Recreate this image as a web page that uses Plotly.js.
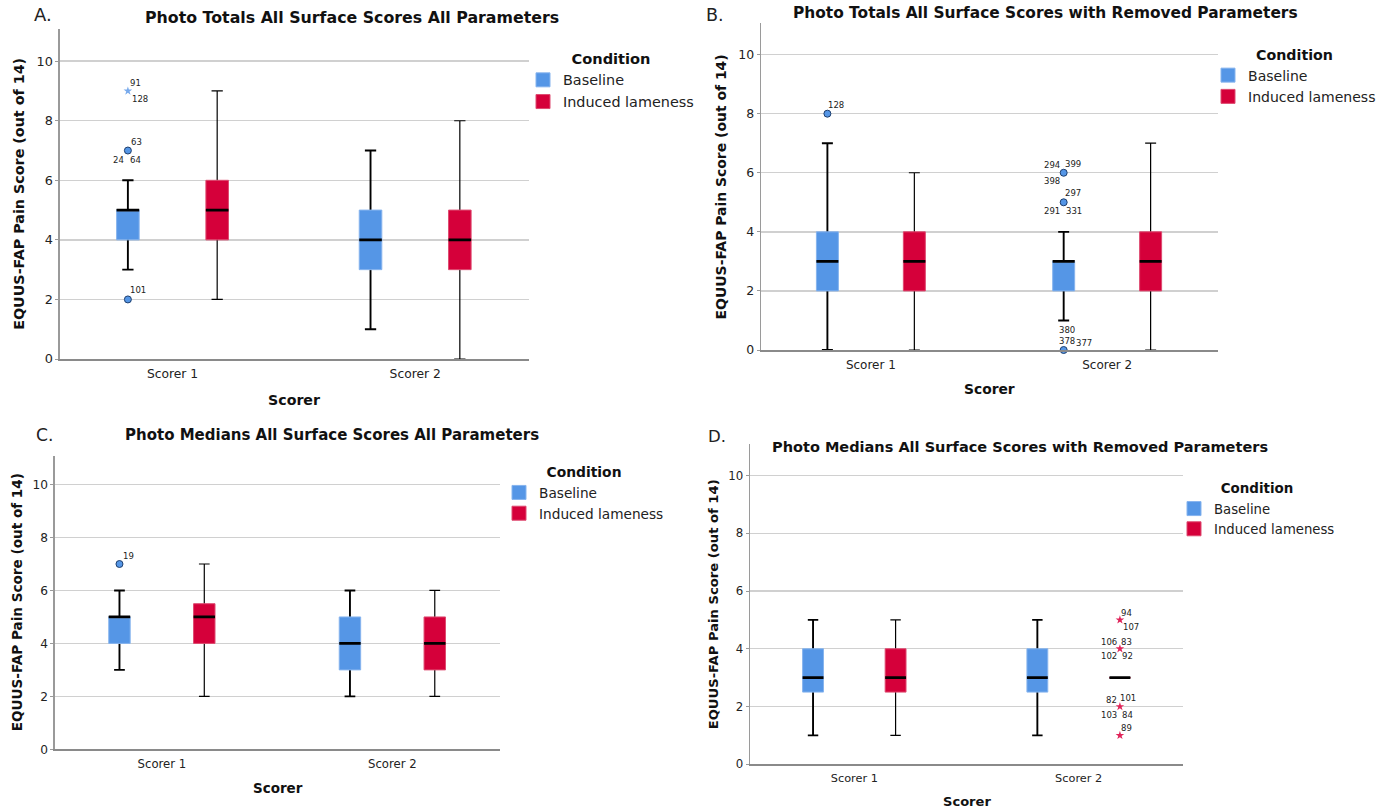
<!DOCTYPE html>
<html>
<head>
<meta charset="utf-8">
<script src="https://cdn.plot.ly/plotly-3.0.1.min.js"></script>
<style>html,body{margin:0;padding:0;background:#fff}#chart{width:1390px;height:811px}</style>
</head>
<body>
<div id="chart"></div>
<script>
// ---------------- DATA ----------------
const scorers = ['Scorer 1', 'Scorer 2'];
const conditions = ['Baseline', 'Induced lameness'];
const yTickVals = [0, 2, 4, 6, 8, 10];
const panelLetters = ['A.', 'B.', 'C.', 'D.'];
const panelTitles = [
  'Photo Totals All Surface Scores All Parameters',
  'Photo Totals All Surface Scores with Removed Parameters',
  'Photo Medians All Surface Scores All Parameters',
  'Photo Medians All Surface Scores with Removed Parameters'
];
const xAxisTitle = 'Scorer';
const yAxisTitle = 'EQUUS-FAP Pain Score (out of 14)';
const legendTitle = 'Condition';

// Box statistics: rows = condition [Baseline, Induced lameness], columns = scorer [Scorer 1, Scorer 2]
// A. Photo totals, all parameters
const totAllLower  = [[3, 1], [2, 0]];
const totAllQ1     = [[4, 3], [4, 3]];
const totAllMedian = [[5, 4], [5, 4]];
const totAllQ3     = [[5, 5], [6, 5]];
const totAllUpper  = [[6, 7], [9, 8]];
const totAllOutScorer = [0, 0, 0];
const totAllOutCond   = [0, 0, 0];
const totAllOutValue  = [9, 7, 2];
const totAllOutKind   = ['extreme', 'outlier', 'outlier'];
const totAllOutCases  = [['91', '128'], ['63', '24', '64'], ['101']];

// B. Photo totals, removed parameters
const totRemLower  = [[0, 1], [0, 0]];
const totRemQ1     = [[2, 2], [2, 2]];
const totRemMedian = [[3, 3], [3, 3]];
const totRemQ3     = [[4, 3], [4, 4]];
const totRemUpper  = [[7, 4], [6, 7]];
const totRemOutScorer = [0, 1, 1, 1];
const totRemOutCond   = [0, 0, 0, 0];
const totRemOutValue  = [8, 6, 5, 0];
const totRemOutKind   = ['outlier', 'outlier', 'outlier', 'outlier'];
const totRemOutCases  = [['128'], ['294', '399', '398'], ['297', '291', '331'], ['380', '378', '377']];

// C. Photo medians, all parameters
const medAllLower  = [[3, 2], [2, 2]];
const medAllQ1     = [[4, 3], [4, 3]];
const medAllMedian = [[5, 4], [5, 4]];
const medAllQ3     = [[5, 5], [5.5, 5]];
const medAllUpper  = [[6, 6], [7, 6]];
const medAllOutScorer = [0];
const medAllOutCond   = [0];
const medAllOutValue  = [7];
const medAllOutKind   = ['outlier'];
const medAllOutCases  = [['19']];

// D. Photo medians, removed parameters
const medRemLower  = [[1, 1], [1, 3]];
const medRemQ1     = [[2.5, 2.5], [2.5, 3]];
const medRemMedian = [[3, 3], [3, 3]];
const medRemQ3     = [[4, 4], [4, 3]];
const medRemUpper  = [[5, 5], [5, 3]];
const medRemOutScorer = [1, 1, 1, 1];
const medRemOutCond   = [1, 1, 1, 1];
const medRemOutValue  = [5, 4, 2, 1];
const medRemOutKind   = ['extreme', 'extreme', 'extreme', 'extreme'];
const medRemOutCases  = [['94', '107'], ['106', '83', '102', '92'], ['82', '101', '103', '84'], ['89']];

// ---------------- STYLE / LAYOUT ----------------
const W = 1390, H = 811;
const FONT = 'DejaVu Sans, Verdana, sans-serif';
const FILL = ['#5596E6', '#D5003A'];
const EDGE = ['#86B4EE', '#DE4A70'];
const STAR = ['#78AAEC', '#E0245A'];
const WHISKER_W = [1.9, 1.2];
const OFFSET = 0.184, BOXW = 0.093;
const XRANGE = [-0.465, 1.467], YRANGE = [0, 11.08];

const panels = [
  { lower: totAllLower, q1: totAllQ1, med: totAllMedian, q3: totAllQ3, upper: totAllUpper,
    oS: totAllOutScorer, oC: totAllOutCond, oV: totAllOutValue, oK: totAllOutKind, oCases: totAllOutCases },
  { lower: totRemLower, q1: totRemQ1, med: totRemMedian, q3: totRemQ3, upper: totRemUpper,
    oS: totRemOutScorer, oC: totRemOutCond, oV: totRemOutValue, oK: totRemOutKind, oCases: totRemOutCases },
  { lower: medAllLower, q1: medAllQ1, med: medAllMedian, q3: medAllQ3, upper: medAllUpper,
    oS: medAllOutScorer, oC: medAllOutCond, oV: medAllOutValue, oK: medAllOutKind, oCases: medAllOutCases },
  { lower: medRemLower, q1: medRemQ1, med: medRemMedian, q3: medRemQ3, upper: medRemUpper,
    oS: medRemOutScorer, oC: medRemOutCond, oV: medRemOutValue, oK: medRemOutKind, oCases: medRemOutCases }
];

// pixel geometry per panel
const geo = [
  { px: [59.7, 528.5], py: [29, 359], fs: 1.0,
    letter: [43, 15], title: [351.7, 17], xt: [294, 400], yt: [18.8, 194],
    leg: [523, 45], tickStd: 3 },
  { px: [761, 1217.5], py: [22.7, 350], fs: 0.975,
    letter: [715, 15], title: [1045, 13.5], xt: [989.5, 389], yt: [721, 186.4],
    leg: [1208, 41], tickStd: 3 },
  { px: [54.7, 500], py: [456, 749.3], fs: 0.95,
    letter: [44, 435], title: [332, 435], xt: [277.5, 788], yt: [16.6, 602.7],
    leg: [499, 459], tickStd: 3 },
  { px: [750, 1183.4], py: [444.3, 764.3], fs: 0.92,
    letter: [717, 436], title: [1020, 447], xt: [966.7, 801], yt: [713, 604.3],
    leg: [1174, 476], tickStd: 3 }
];

// case label pixel offsets [dx, dy(down)] per outlier, per case
const labelOffsets = [
  [[[8, -8], [12, 8]], [[9, -9], [-9, 9], [8, 9]], [[10, -9]]],
  [[[9, -9]], [[-12, -8], [9, -9], [-12, 8]], [[9, -9], [-12, 9], [10, 9]], [[3, -20], [3, -9], [20, -7]]],
  [[[9, -8]]],
  [[[7, -7], [11, 7]], [[-11, -7], [7, -7], [-11, 7], [8, 7]], [[-8, -7], [8, -9], [-11, 8], [8, 8]], [[7, -7]]]
];

const traces = [];
const annotations = [];
const layout = {
  width: W, height: H, autosize: false,
  margin: { l: 0, r: 0, t: 0, b: 0, pad: 0 },
  paper_bgcolor: '#fff', plot_bgcolor: '#fff',
  showlegend: true, hovermode: false,
  font: { family: FONT, color: '#222' },
  annotations: annotations
};

const px2x = v => v / W;
const px2y = v => 1 - v / H;

panels.forEach((p, i) => {
  const g = geo[i];
  const n = i === 0 ? '' : String(i + 1);
  const xa = 'x' + n, ya = 'y' + n;
  const legId = 'legend' + n;
  const s = g.fs;

  layout['xaxis' + n] = {
    domain: [px2x(g.px[0]), px2x(g.px[1])],
    anchor: ya, range: XRANGE, fixedrange: true,
    tickvals: scorers.map((_, k) => k), ticktext: scorers,
    ticks: '', showgrid: false, zeroline: false,
    showline: true, linecolor: '#8a8a8a', linewidth: 1.5,
    tickfont: { family: FONT, size: 12.3 * s, color: '#222' },
    ticklabelstandoff: g.tickStd, automargin: false
  };
  layout['yaxis' + n] = {
    domain: [px2y(g.py[1]), px2y(g.py[0])],
    anchor: xa, range: YRANGE, fixedrange: true,
    tickvals: yTickVals, ticks: 'outside', ticklen: 3, tickcolor: '#9a9a9a', tickwidth: 1,
    showgrid: true, gridcolor: '#d0d0d0', gridwidth: 1.4, zeroline: false,
    showline: true, linecolor: '#9a9a9a', linewidth: 1.3,
    tickfont: { family: FONT, size: 12.8 * s, color: '#222' },
    automargin: false
  };

  conditions.forEach((cond, c) => {
    const xs = scorers.map((_, k) => k + (c === 0 ? -OFFSET : OFFSET));
    const common = { type: 'box', x: xs, xaxis: xa, yaxis: ya, width: BOXW,
      boxpoints: false, showlegend: false, hoverinfo: 'skip' };
    // whiskers (drawn from the median out to the fences; box body covers the inner part)
    traces.push(Object.assign({}, common, {
      q1: p.med[c], median: p.med[c], q3: p.med[c],
      lowerfence: p.lower[c], upperfence: p.upper[c],
      whiskerwidth: 0.5, fillcolor: 'rgba(0,0,0,0)',
      line: { color: '#000', width: WHISKER_W[c] }
    }));
    // box body
    traces.push(Object.assign({}, common, {
      q1: p.q1[c], median: p.med[c], q3: p.q3[c],
      lowerfence: p.q1[c], upperfence: p.q3[c],
      whiskerwidth: 0, fillcolor: FILL[c],
      line: { color: EDGE[c], width: 1 }
    }));
    // median line
    traces.push(Object.assign({}, common, {
      q1: p.med[c], median: p.med[c], q3: p.med[c],
      lowerfence: p.med[c], upperfence: p.med[c],
      whiskerwidth: 0, fillcolor: 'rgba(0,0,0,0)',
      line: { color: '#000', width: 2.8 }
    }));
    // legend swatch
    traces.push({
      type: 'scatter', mode: 'markers', x: [null], y: [null], xaxis: xa, yaxis: ya,
      name: cond, legend: legId, showlegend: true, hoverinfo: 'skip',
      marker: { symbol: 'square', size: 14, color: FILL[c], line: { color: EDGE[c], width: 1 } }
    });
  });

  // outliers
  ['outlier', 'extreme'].forEach(kind => {
    const idx = p.oV.map((_, k) => k).filter(k => p.oK[k] === kind);
    if (!idx.length) return;
    traces.push({
      type: 'scatter', mode: 'markers', xaxis: xa, yaxis: ya, showlegend: false, hoverinfo: 'skip',
      x: idx.map(k => p.oS[k] + (p.oC[k] === 0 ? -OFFSET : OFFSET)),
      y: idx.map(k => p.oV[k]),
      cliponaxis: false,
      marker: kind === 'outlier'
        ? { symbol: 'circle', size: 7, color: idx.map(k => FILL[p.oC[k]]), line: { color: '#1E3F6E', width: 1 } }
        : { symbol: 'star', size: 6.5, color: idx.map(k => STAR[p.oC[k]]), line: { width: 0 } }
    });
  });
  // case labels
  p.oV.forEach((v, k) => {
    const xv = p.oS[k] + (p.oC[k] === 0 ? -OFFSET : OFFSET);
    p.oCases[k].forEach((txt, j) => {
      const off = labelOffsets[i][k][j];
      annotations.push({ xref: xa, yref: ya, x: xv, y: v, text: txt, showarrow: false,
        xshift: off[0], yshift: -off[1], xanchor: 'center', yanchor: 'middle',
        font: { family: FONT, size: 8.5, color: '#222' } });
    });
  });

  // legend
  layout[legId] = {
    x: px2x(g.leg[0]), y: px2y(g.leg[1]), xref: 'paper', yref: 'paper',
    xanchor: 'left', yanchor: 'top', bgcolor: 'rgba(0,0,0,0)', borderwidth: 0,
    title: { text: '<b>' + legendTitle + '</b>', side: 'top center', font: { family: FONT, size: 14.6 * s, color: '#111' } },
    font: { family: FONT, size: 14.4 * s, color: '#222' },
    itemclick: false, itemdoubleclick: false, tracegroupgap: 0, itemsizing: 'trace'
  };

  // texts
  annotations.push({ xref: 'paper', yref: 'paper', x: px2x(g.letter[0]), y: px2y(g.letter[1]),
    text: panelLetters[i], showarrow: false, xanchor: 'center', yanchor: 'middle',
    font: { family: FONT, size: 18 * s, color: '#222' } });
  annotations.push({ xref: 'paper', yref: 'paper', x: px2x(g.title[0]), y: px2y(g.title[1]),
    text: '<b>' + panelTitles[i] + '</b>', showarrow: false, xanchor: 'center', yanchor: 'middle',
    font: { family: FONT, size: 15.8 * s, color: '#111' } });
  annotations.push({ xref: 'paper', yref: 'paper', x: px2x(g.xt[0]), y: px2y(g.xt[1]),
    text: '<b>' + xAxisTitle + '</b>', showarrow: false, xanchor: 'center', yanchor: 'middle',
    font: { family: FONT, size: 14.2 * s, color: '#111' } });
  annotations.push({ xref: 'paper', yref: 'paper', x: px2x(g.yt[0]), y: px2y(g.yt[1]),
    text: '<b>' + yAxisTitle + '</b>', showarrow: false, xanchor: 'center', yanchor: 'middle', textangle: -90,
    font: { family: FONT, size: 14.3 * s, color: '#111' } });
});

Plotly.newPlot('chart', traces, layout, { staticPlot: true, displayModeBar: false });
</script>
</body>
</html>
